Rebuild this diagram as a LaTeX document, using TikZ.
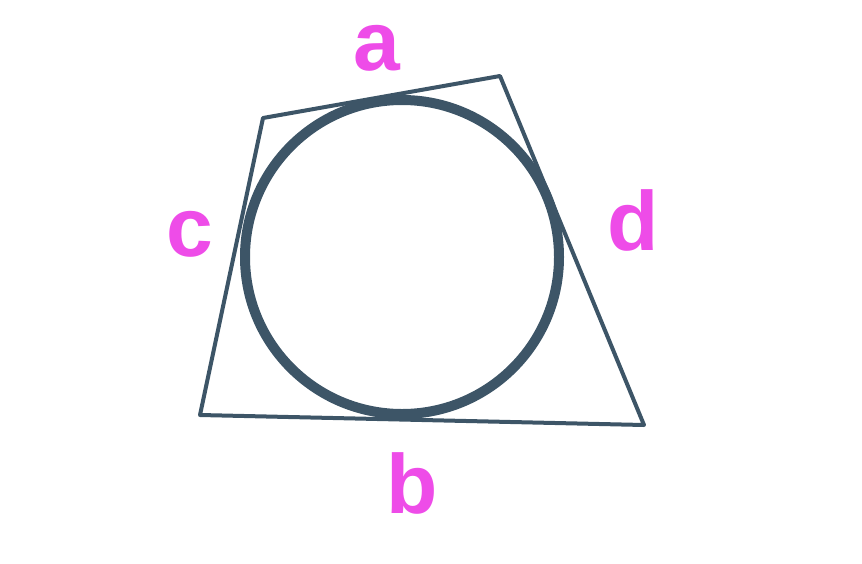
\documentclass[tikz,border=0pt]{standalone}
\usepackage{fontspec}
\setmainfont{Liberation Sans}
\definecolor{slate}{HTML}{3D5567}
\definecolor{pinklabel}{HTML}{EE4CE8}
\begin{document}
\begin{tikzpicture}[x=1pt,y=-1pt,
  side/.style={draw=slate,line width=4pt,line join=round,line cap=round},
  incircle/.style={draw=slate,line width=10pt},
  lbl/.style={text=pinklabel,font=\fontsize{84}{90}\selectfont\bfseries,inner sep=0pt,anchor=base}]
\useasboundingbox (0,0) rectangle (862,563);
\coordinate (TL) at (263,118);
\coordinate (TR) at (500,76);
\coordinate (BR) at (644,425);
\coordinate (BL) at (200,415);
\draw[side] (TL) -- (TR) -- (BR) -- (BL) -- cycle;
\draw[incircle] (402,257) circle[radius=157];
\node[lbl] (a) at (377,70) {a};
\node[lbl] (b) at (412,513) {b};
\node[lbl] (c) at (190,256) {c};
\node[lbl] (d) at (633,250) {d};
\end{tikzpicture}
\end{document}
